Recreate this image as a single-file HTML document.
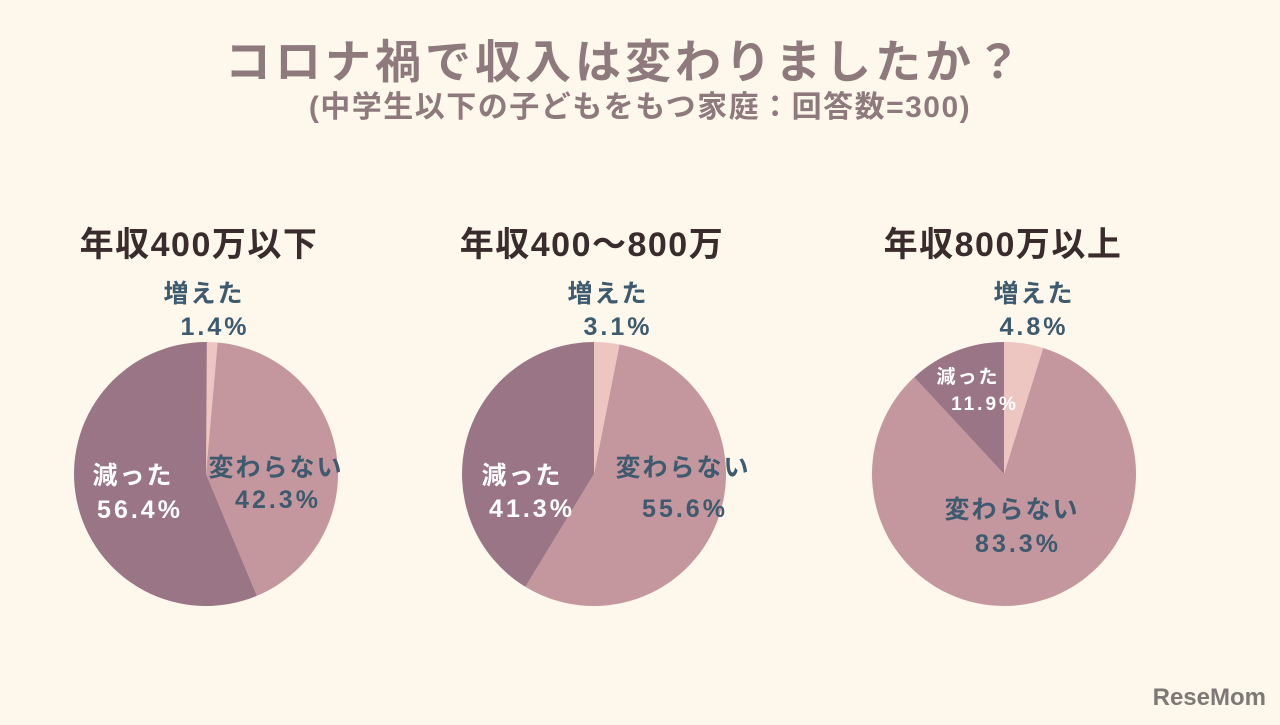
<!DOCTYPE html>
<html><head><meta charset="utf-8">
<style>
html,body{margin:0;padding:0;background:#fdf7ec;}
body{width:1280px;height:720px;overflow:hidden;position:relative;font-family:"Liberation Sans","Noto Sans CJK JP",sans-serif;}
svg text{font-family:"Liberation Sans","Noto Sans CJK JP",sans-serif;font-weight:bold;}
</style></head>
<body>
<svg id="chart" width="1280" height="720" viewBox="0 0 1280 720">
<rect width="1280" height="720" fill="#fdf7ec"/>
<text x="625" y="78" text-anchor="middle" font-size="46" letter-spacing="4" fill="#8e7a7c">コロナ禍で収入は変わりましたか？</text>
<text x="640" y="117" text-anchor="middle" font-size="30" letter-spacing="1.5" fill="#8e7a7c">(中学生以下の子どもをもつ家庭：回答数=300)</text>
<text x="1266" y="705" text-anchor="end" font-size="24" fill="#7d7a76">ReseMom</text>
</svg>
<script>
const groups = ["年収400万以下", "年収400〜800万", "年収800万以上"];
const categories = ["増えた", "変わらない", "減った"];
const increased = [1.4, 3.1, 4.8];
const unchanged = [42.3, 55.6, 83.3];
const decreased = [56.4, 41.3, 11.9];

const svg = document.getElementById('chart');
const NS = 'http://www.w3.org/2000/svg';
const centers = [206, 594, 1004];
const titleX = [199, 592, 1003];
const cy = 474, R = 132;
const colors = ['#eec6c1', '#c4979f', '#9a7585'];
// layout: [labelX,labelY,valueX,valueY,size,color] per category per pie
const layout = [
  [[204,302,215,335,25,'#3d5a6e'],[276,476,278,508,25,'#3d5a6e'],[133,484,140,518,25,'#fff']],
  [[608,302,618,335,25,'#3d5a6e'],[683,476,685,517,25,'#3d5a6e'],[522,484,532,517,25,'#fff']],
  [[1034,302,1034,335,25,'#3d5a6e'],[1012,518,1018,552,25,'#3d5a6e'],[968,383,985,410,19,'#fff']]
];
const ang = p => p / 100 * 2 * Math.PI;
function pt(cx, a, r){ return [cx + r*Math.sin(a), cy - r*Math.cos(a)]; }
function txt(x,y,s,size,fill,ls){
  const t=document.createElementNS(NS,'text');
  t.setAttribute('x',x);t.setAttribute('y',y);t.setAttribute('font-size',size);
  t.setAttribute('fill',fill);t.setAttribute('text-anchor','middle');
  t.setAttribute('letter-spacing',ls);
  t.textContent=s;svg.appendChild(t);return t;
}
groups.forEach((g,i)=>{
  const cx=centers[i];
  const vals=[increased[i],unchanged[i],decreased[i]];
  const gt=txt(titleX[i],256,g,34,'#3a2c2c',1.5);
  
  
  let start=0;
  vals.forEach((v,k)=>{
    const a0=ang(start), a1=ang(start+v);
    const [x0,y0]=pt(cx,a0,R),[x1,y1]=pt(cx,a1,R);
    const p=document.createElementNS(NS,'path');
    p.setAttribute('d',`M${cx},${cy} L${x0},${y0} A${R},${R} 0 ${v>50?1:0} 1 ${x1},${y1} Z`);
    p.setAttribute('fill',colors[k]);
    
    
    svg.appendChild(p);
    start+=v;
  });
  const names=['increased','unchanged','decreased'];
  vals.forEach((v,k)=>{
    const L=layout[i][k];
    const l=txt(L[0],L[1],categories[k],L[4],L[5],2);
    
    
    const vv=txt(L[2],L[3],v.toFixed(1)+'%',L[4],L[5],3);
    
    
  });
});
</script>
</body></html>
